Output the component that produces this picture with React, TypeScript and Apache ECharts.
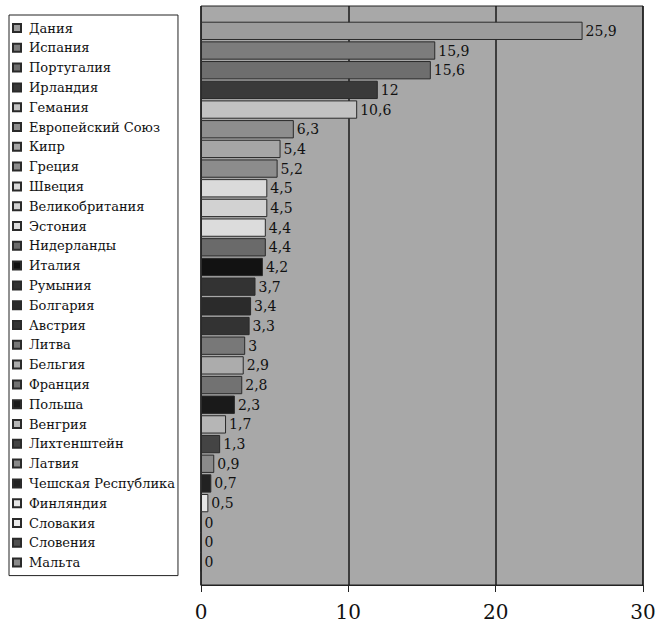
import React, { useEffect, useRef } from "react";
import * as echarts from "echarts";

const countries = [
  "Дания", "Испания", "Португалия", "Ирландия", "Гемания", "Европейский Союз",
  "Кипр", "Греция", "Швеция", "Великобритания", "Эстония", "Нидерланды",
  "Италия", "Румыния", "Болгария", "Австрия", "Литва", "Бельгия", "Франция",
  "Польша", "Венгрия", "Лихтенштейн", "Латвия", "Чешская Республика",
  "Финляндия", "Словакия", "Словения", "Мальта",
];
const values = [
  25.9, 15.9, 15.6, 12, 10.6, 6.3, 5.4, 5.2, 4.5, 4.5, 4.4, 4.4, 4.2, 3.7,
  3.4, 3.3, 3, 2.9, 2.8, 2.3, 1.7, 1.3, 0.9, 0.7, 0.5, 0, 0, 0,
];
const shades = [
  "#9c9c9c", "#7c7c7c", "#6e6e6e", "#3a3a3a", "#c2c2c2", "#8e8e8e",
  "#a6a6a6", "#8c8c8c", "#dadada", "#d2d2d2", "#dcdcdc", "#6a6a6a",
  "#121212", "#333333", "#2b2b2b", "#333333", "#787878", "#acacac", "#727272",
  "#1a1a1a", "#b6b6b6", "#444444", "#8a8a8a", "#222222",
  "#e6e6e6", "#ececec", "#505050", "#8a8a8a",
];

const SERIF = "DejaVu Serif";

export default function App() {
  const ref = useRef<HTMLDivElement>(null);
  useEffect(() => {
    if (!ref.current) return;
    const chart = echarts.init(ref.current, undefined, { renderer: "svg" });
    const series = countries.map((name, i) => ({
      name,
      type: "bar",
      xAxisIndex: 1,
      yAxisIndex: 1,
      stack: "all",
      barCategoryGap: "7%",
      data: values.map((v, j) => (j === i ? v : "-")),
      itemStyle: { color: shades[i], borderColor: "#2a2a2a", borderWidth: 1 },
      label: {
        show: true,
        position: "right",
        distance: 3,
        color: "#111",
        fontFamily: SERIF,
        fontSize: 14,
        formatter: (p: any) => String(p.value).replace(".", ","),
      },
    }));
    chart.setOption({
      animation: false,
      backgroundColor: "#ffffff",
      textStyle: { fontFamily: SERIF },
      legend: {
        orient: "vertical",
        left: 9,
        top: 15,
        padding: [5, 3, 5, 3],
        itemGap: 3.8,
        itemWidth: 8,
        itemHeight: 8,
        icon: "rect",
        selectedMode: false,
        borderColor: "#222",
        borderWidth: 1,
        backgroundColor: "#ffffff",
        data: countries,
        textStyle: {
          fontFamily: SERIF,
          fontSize: 13,
          lineHeight: 16,
          color: "#111",
          padding: [0, 0, 0, 3],
        },
      },
      grid: [
        {
          left: 201, top: 6, width: 442, height: 579,
          show: true, backgroundColor: "#a8a8a8", borderColor: "#222", borderWidth: 1,
        },
        { left: 201, top: 21, width: 442, height: 551 },
      ],
      xAxis: [
        {
          gridIndex: 0, type: "value", min: 0, max: 30, interval: 10,
          axisLine: { show: true, lineStyle: { color: "#222", width: 1 } },
          axisTick: { show: true, length: 7, lineStyle: { color: "#222" } },
          axisLabel: { fontFamily: SERIF, fontSize: 20, color: "#111", margin: 17 },
          splitLine: { show: true, lineStyle: { color: "#1a1a1a", width: 1.5 } },
        },
        {
          gridIndex: 1, type: "value", min: 0, max: 30, show: false,
          splitLine: { show: false },
        },
      ],
      yAxis: [
        { gridIndex: 0, type: "value", show: false, splitLine: { show: false } },
        {
          gridIndex: 1, type: "category", inverse: true, data: countries, show: false,
        },
      ],
      series,
    });
    return () => chart.dispose();
  }, []);
  return (
    <div
      ref={ref}
      style={{ position: "fixed", left: 0, top: 0, width: 660, height: 624 }}
    />
  );
}
